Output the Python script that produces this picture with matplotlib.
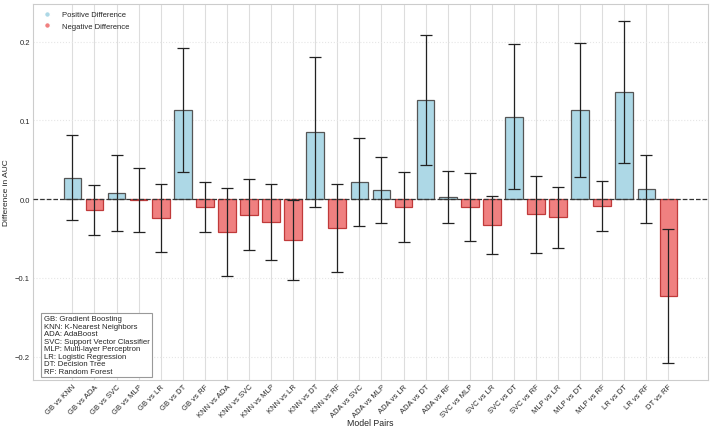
import matplotlib
matplotlib.use("Agg")
import matplotlib.pyplot as plt
import numpy as np
from matplotlib.lines import Line2D

pairs = ["GB vs KNN", "GB vs ADA", "GB vs SVC", "GB vs MLP", "GB vs LR", "GB vs DT", "GB vs RF",
         "KNN vs ADA", "KNN vs SVC", "KNN vs MLP", "KNN vs LR", "KNN vs DT", "KNN vs RF",
         "ADA vs SVC", "ADA vs MLP", "ADA vs LR", "ADA vs DT", "ADA vs RF",
         "SVC vs MLP", "SVC vs LR", "SVC vs DT", "SVC vs RF",
         "MLP vs LR", "MLP vs DT", "MLP vs RF", "LR vs DT", "LR vs RF", "DT vs RF"]
diffs = [0.027, -0.014, 0.008, -0.001, -0.024, 0.113, -0.010,
         -0.042, -0.020, -0.029, -0.052, 0.085, -0.037,
         0.022, 0.012, -0.010, 0.126, 0.003,
         -0.010, -0.033, 0.105, -0.019,
         -0.023, 0.113, -0.009, 0.136, 0.013, -0.123]
errors = [0.054, 0.032, 0.048, 0.041, 0.043, 0.079, 0.032,
          0.056, 0.045, 0.048, 0.051, 0.095, 0.056,
          0.056, 0.042, 0.044, 0.083, 0.033,
          0.043, 0.037, 0.092, 0.049,
          0.039, 0.085, 0.032, 0.090, 0.043, 0.085]
abbrev_text = ("GB: Gradient Boosting\nKNN: K-Nearest Neighbors\nADA: AdaBoost\n"
               "SVC: Support Vector Classifier\nMLP: Multi-layer Perceptron\n"
               "LR: Logistic Regression\nDT: Decision Tree\nRF: Random Forest")

plt.style.use("seaborn-v0_8-whitegrid")
plt.rcParams['font.family'] = ['Liberation Sans', 'DejaVu Sans']

fig = plt.figure(figsize=(7.14, 4.31), dpi=100)
ax = fig.add_axes([0.046, 0.116, 0.9456, 0.872])

x = np.arange(len(pairs))
face = ['#add8e6' if d > 0 else '#f08080' for d in diffs]
edge = ['#555555' if d > 0 else '#c03a3a' for d in diffs]
ax.bar(x, diffs, width=0.8, color=face, edgecolor=edge, linewidth=0.9,
       yerr=errors, capsize=4, error_kw=dict(ecolor='#222222', elinewidth=0.9, capthick=0.9),
       zorder=2)
ax.axhline(0, color='#333333', linestyle='--', linewidth=0.9, zorder=3)

ax.set_xticks(x)
ax.set_xticklabels(pairs, rotation=45, ha='right', rotation_mode='anchor', fontsize=5.5)
ax.tick_params(axis='y', labelsize=5.5, pad=2)
ax.tick_params(axis='x', pad=2)
ax.set_yticks([-0.2, -0.1, 0.0, 0.1, 0.2])
ax.set_ylabel("Difference in AUC", fontsize=6.0, labelpad=4)
ax.set_xlabel("Model Pairs", fontsize=6.3, va='center')
ax.xaxis.set_label_coords(0.5, -0.112)

ax.grid(axis='x', color='#dddddd', linewidth=0.8, linestyle='-')
ax.grid(axis='y', color='#e6e6e6', linewidth=0.8, linestyle=':')
for s in ax.spines.values():
    s.set_visible(True)
    s.set_color('#cccccc')
    s.set_linewidth(0.8)

handles = [Line2D([0], [0], marker='o', color='w', markerfacecolor='#add8e6', markersize=4.2, label='Positive Difference'),
           Line2D([0], [0], marker='o', color='w', markerfacecolor='#f08080', markersize=4.2, label='Negative Difference')]
ax.legend(handles=handles, loc='upper left', fontsize=5.5, frameon=False,
          handletextpad=0.9, borderaxespad=0.5, labelspacing=0.5)

ax.text(0.016, 0.014, abbrev_text, transform=ax.transAxes, fontsize=5.6, va='bottom', ha='left',
        linespacing=1.1,
        bbox=dict(boxstyle='square,pad=0.3', facecolor='white', edgecolor='#999999', linewidth=0.8))

fig.savefig("out.png", dpi=100)
